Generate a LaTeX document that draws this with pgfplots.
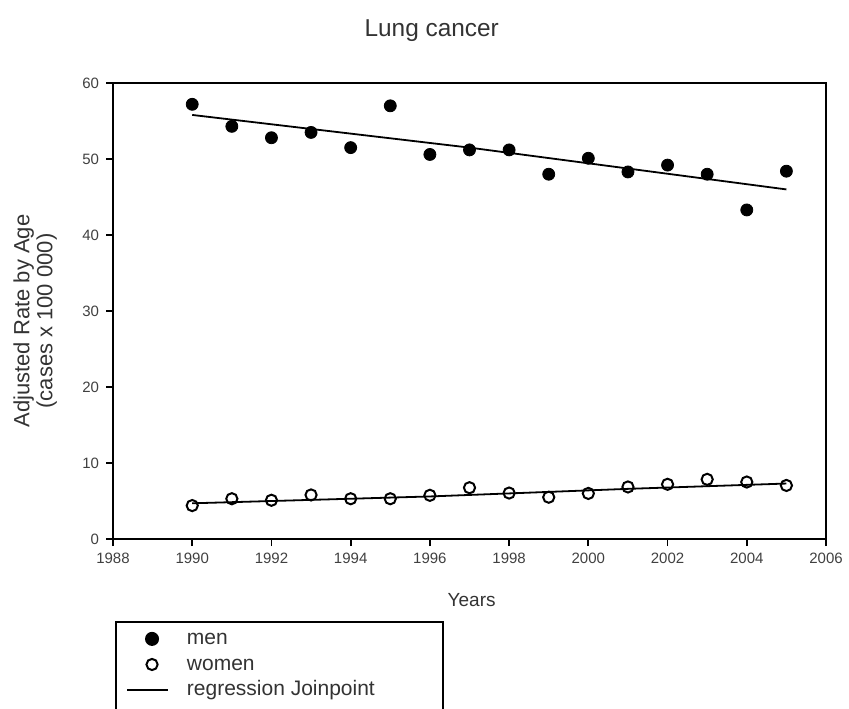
\documentclass[border=0pt]{standalone}
\usepackage{fontspec}
\setmainfont{Liberation Sans}
\usepackage{pgfplots}
\pgfplotsset{compat=1.18}
% legend images: line 20.5pt long, marks centred at 12.5pt
\pgfplotsset{
    joinline/.style={legend image code/.code={\draw[##1] (0pt,0pt) -- (20.5pt,0pt);}},
    dotkey/.style={legend image code/.code={\draw[##1] plot coordinates {(12.5pt,0pt)};}},
}

\begin{document}
\begin{tikzpicture}
\begin{axis}[
    at={(56.5pt,-269.5pt)}, anchor=south west,
    scale only axis,
    width=356.5pt, height=228pt,
    xmin=1988, xmax=2006, ymin=0, ymax=60,
    xtick={1988,1990,...,2006},
    ytick={0,10,...,60},
    /pgf/number format/1000 sep={},
    /pgf/number format/assume math mode=true,
    tick label style={font=\fontsize{7.5}{8}\selectfont, text=black!75},
    tick align=outside, xtick pos=left, ytick pos=left,
    major tick length=3.5pt,
    every tick/.style={black, line width=0.9pt},
    axis line style={line width=1.2pt},
    title={Lung cancer},
    title style={at={(axis description cs:0.447,1.088)}, anchor=center, yshift=0pt,
        font=\fontsize{12.2}{13}\selectfont, text=black!80},
    xlabel={Years},
    xlabel style={at={(axis description cs:0.503,-0.134)}, anchor=center,
        font=\fontsize{9.5}{11}\selectfont, text=black!80},
    ylabel={Adjusted Rate by Age\\(cases x 100 000)},
    ylabel style={at={(axis description cs:-0.109,0.478)}, anchor=center,
        align=center, font=\fontsize{11}{11.5}\selectfont, text=black!80},
    legend style={at={(axis description cs:0.003,-0.18)}, anchor=north west,
        draw=black, line width=1pt, inner xsep=5pt, inner ysep=2pt,
        font=\fontsize{10.5}{10.5}\selectfont, text=black!80,
        row sep=0pt, column sep=7pt,
        nodes={inner ysep=1.5pt, text height=7.8pt, text depth=2pt}},
    legend cell align=left,
    clip=false,
]

% men
\addplot[only marks, mark=*, mark size=3pt, black, dotkey] coordinates {
    (1990,57.2) (1991,54.3) (1992,52.8) (1993,53.5) (1994,51.5) (1995,57.0)
    (1996,50.6) (1997,51.2) (1998,51.2) (1999,48.0) (2000,50.1) (2001,48.3)
    (2002,49.2) (2003,48.0) (2004,43.3) (2005,48.4)
};
\addlegendentry{men}

% women
\addplot[only marks, mark=o, mark size=2.8pt, black, line width=1pt, dotkey] coordinates {
    (1990,4.4) (1991,5.3) (1992,5.1) (1993,5.8) (1994,5.3) (1995,5.3)
    (1996,5.75) (1997,6.75) (1998,6.05) (1999,5.5) (2000,6.0) (2001,6.85)
    (2002,7.2) (2003,7.85) (2004,7.5) (2005,7.05)
};
\addlegendentry{women}

% Joinpoint regression, men
\addplot[black, line width=0.9pt, joinline]
    coordinates {(1990,55.8) (1997,51.5) (2005,46.0)};
\addlegendentry{\makebox[121pt][l]{regression Joinpoint}}

% Joinpoint regression, women
\addplot[black, line width=0.9pt, forget plot]
    coordinates {(1990,4.7) (1996,5.6) (2001,6.6) (2005,7.3)};

% blank row: the box runs on below the page edge
\addlegendimage{empty legend}
\addlegendentry{~}

\end{axis}
\pgfresetboundingbox
\useasboundingbox (0pt,0pt) rectangle (424.5pt,-354pt);
\end{tikzpicture}
\end{document}
